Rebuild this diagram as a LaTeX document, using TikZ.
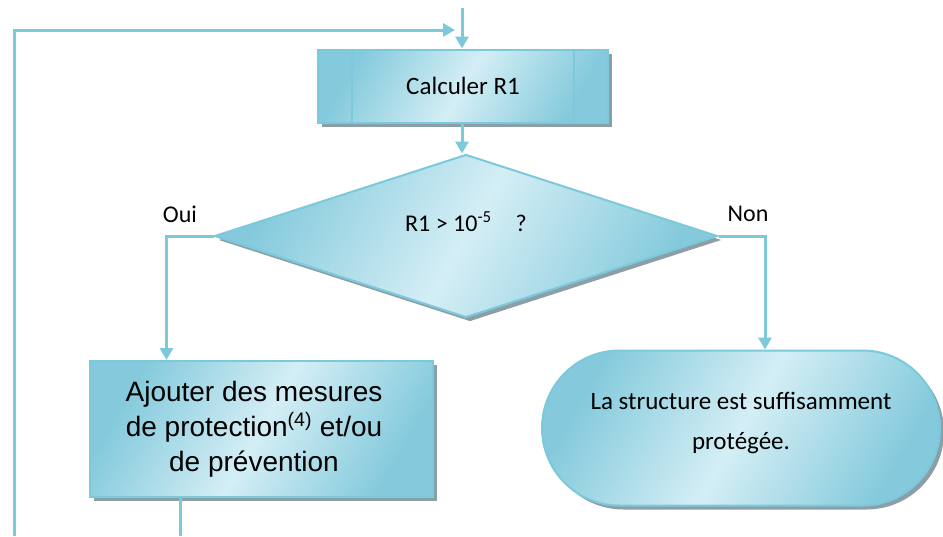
\documentclass[tikz,border=0pt]{standalone}
\usepackage{fontspec}
\setmainfont{Carlito}
\newfontfamily\arialfont{Liberation Sans}
\usetikzlibrary{shapes.geometric,shapes.misc,shadows,arrows.meta}
\definecolor{lineblue}{RGB}{124,201,219}
\definecolor{darkfill}{RGB}{132,202,220}
\definecolor{lightfill}{RGB}{212,238,245}
\definecolor{shadowgray}{RGB}{140,159,166}
\tikzset{
  flow/.style={draw=lineblue,line width=3pt},
  arr/.style={flow,-{Triangle[width=13pt,length=12pt]}},
  box/.style={draw=lineblue,line width=2pt,left color=darkfill,right color=darkfill,
    middle color=lightfill,shading angle=60,
    general shadow={fill=shadowgray,shadow xshift=4pt,shadow yshift=-4pt}},
  lbl/.style={font=\fontsize{24}{29}\selectfont}
}
\begin{document}
\begin{tikzpicture}[x=1pt,y=-1pt]
\useasboundingbox (0,0) rectangle (943,536);
% boxes
\node[box,font=\fontsize{25}{30}\selectfont,minimum width=290pt,minimum height=73pt,inner sep=0pt] (calc) at (463,86) {Calculer R1};
\draw[flow,line width=1.5pt] ([xshift=35pt]calc.north west) -- ([xshift=35pt]calc.south west);
\draw[flow,line width=1.5pt] ([xshift=-35pt]calc.north east) -- ([xshift=-35pt]calc.south east);
\node[box,lbl,shape=diamond,aspect=3.09,minimum width=503pt,minimum height=163pt,inner sep=0pt] (test) at (466,236)
  {\raisebox{28pt}{R1 > 10\textsuperscript{-5}\quad ?}};
\node[box,minimum width=343pt,minimum height=136pt,inner sep=0pt,
  font=\arialfont\fontsize{28}{35}\selectfont] (ajout) at (261,429)
  {\hspace{-14pt}\begin{tabular}{@{}c@{}}Ajouter des mesures\\de protection\textsuperscript{(4)} et/ou\\de prévention\end{tabular}\hspace{14pt}};
\node[box,font=\fontsize{25}{30}\selectfont,shape=rounded rectangle,minimum width=398pt,minimum height=155pt,inner sep=0pt] (fin) at (741,428)
  {\raisebox{38pt}{\begin{tabular}{c}La structure est suffisamment\\[10pt]protégée.\end{tabular}}};
% labels
\node[lbl] (oui) at (180,214) {Oui};
\node[lbl] (non) at (748,214) {Non};
% connectors
\coordinate (entree) at (462,8);
\coordinate (retour) at (14,536);
\coordinate (retourfin) at (455,30);
\coordinate (sortie) at (180,536);
\draw[arr] (entree) -- (entree |- calc.north);
\draw[arr] (retour) |- (retourfin);
\draw[arr] (calc.south -| entree) -- (test.north -| entree);
\draw[arr] (test.west) -| ([xshift=78pt]ajout.north west);
\draw[arr] (test.east) -| ([xshift=24pt]fin.north);
\draw[flow] (ajout.south -| sortie) -- (sortie);
\end{tikzpicture}
\end{document}
